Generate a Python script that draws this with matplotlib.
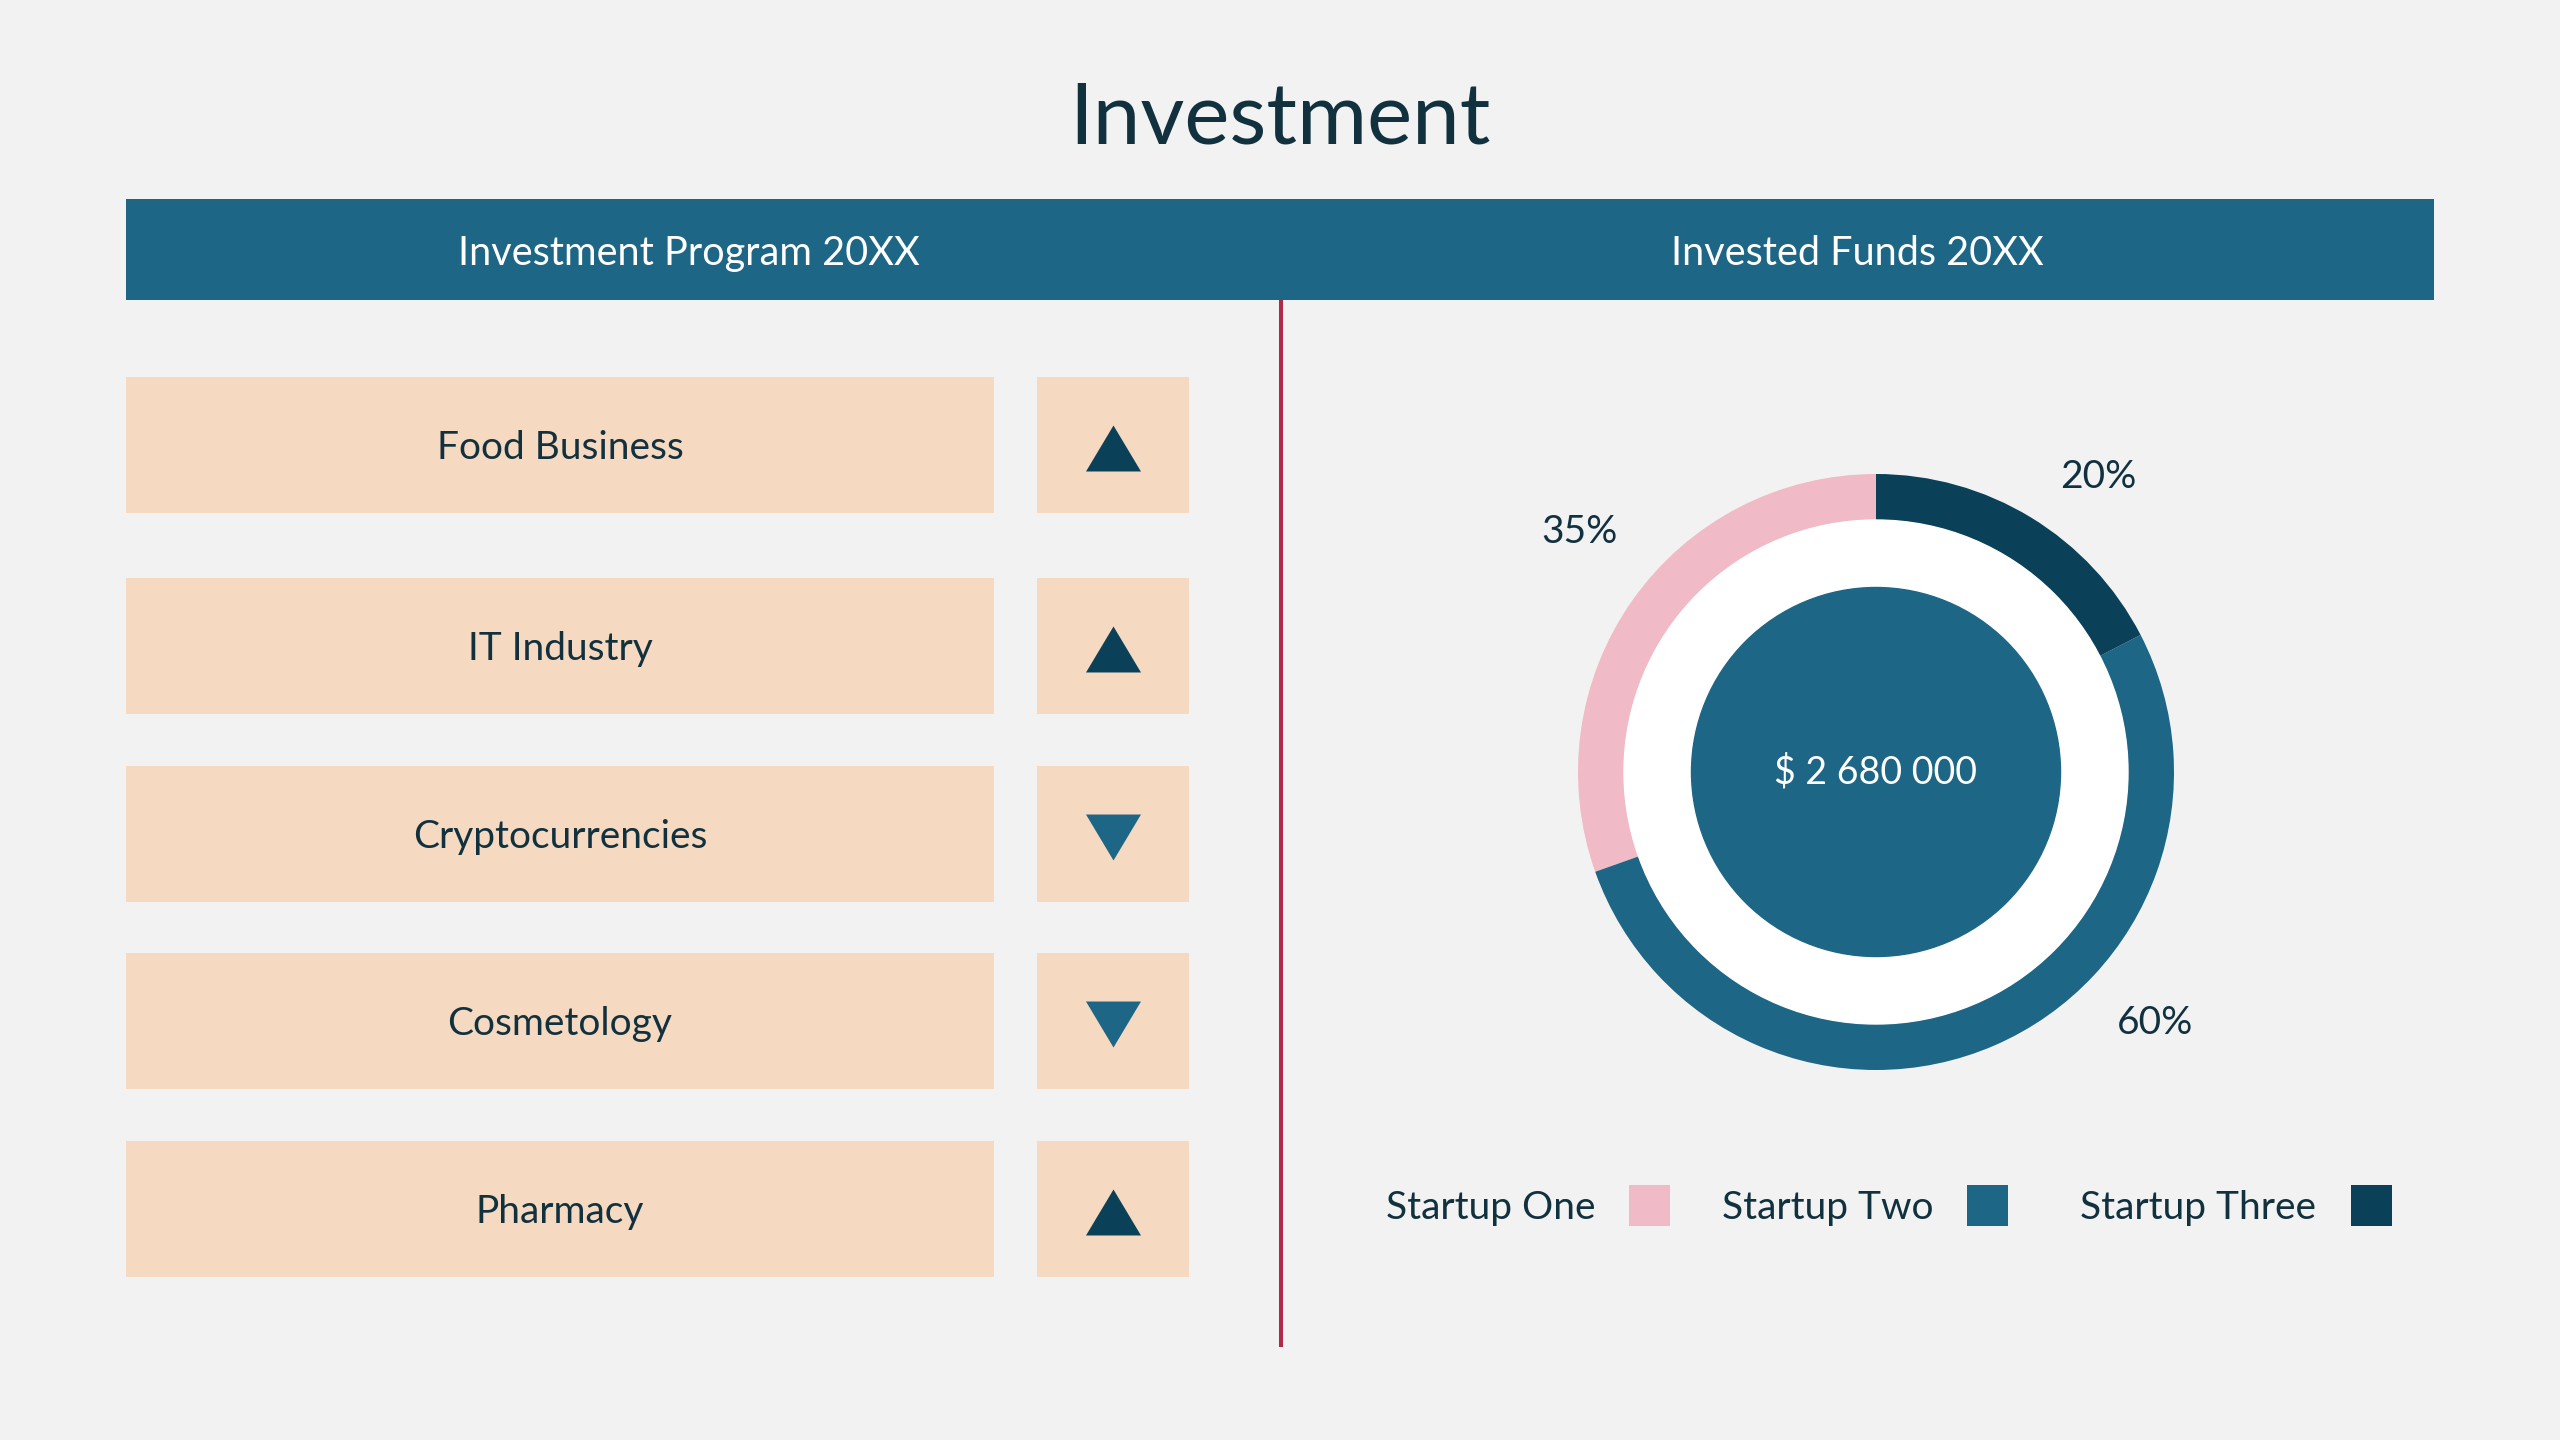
import numpy as np
import matplotlib
matplotlib.use('Agg')
import matplotlib.pyplot as plt
from matplotlib.patches import Rectangle, Circle

# chart content
title = 'Investment'
left_header = 'Investment Program 20XX'
right_header = 'Invested Funds 20XX'
categories = ['Food Business', 'IT Industry', 'Cryptocurrencies', 'Cosmetology', 'Pharmacy']
trends = ['up', 'up', 'down', 'down', 'up']
startups = ['Startup One', 'Startup Two', 'Startup Three']
shares = [35, 60, 20]
total_funds = '$ 2 680 000'

# colours
BG = '#F2F2F2'
TEXT = '#12313F'
TEAL = '#1D6685'
NAVY = '#0A4058'
PINK = '#F0BAC6'
PEACH = '#F5D9C1'
RED = '#B22A4B'
startup_colors = [PINK, TEAL, NAVY]
trend_colors = {'up': NAVY, 'down': TEAL}

W, H = 2560, 1440
plt.rcParams['font.family'] = ['Lato', 'DejaVu Sans']

fig = plt.figure(figsize=(W / 100, H / 100), dpi=100, facecolor=BG)
ax = fig.add_axes([0, 0, 1, 1])
ax.set_xlim(0, W)
ax.set_ylim(H, 0)
ax.axis('off')

# title and header band
ax.text(W / 2, 144, title, ha='center', va='baseline', fontsize=61.5, color=TEXT)
ax.add_patch(Rectangle((126, 199), 2308, 101, color=TEAL, lw=0))
ax.text(689, 265, left_header, ha='center', va='baseline', fontsize=28.5, color='white')
ax.text(1857, 265, right_header, ha='center', va='baseline', fontsize=28.5, color='white')

# divider
ax.plot([1281, 1281], [300, 1347], color=RED, lw=2.9, solid_capstyle='butt')

# left panel: rows with trend arrows
row_tops = [377, 578, 766, 953, 1141]
row_h = 136
up_marker = [(-1, -0.836), (1, -0.836), (0, 0.836)]
down_marker = [(-1, 0.836), (1, 0.836), (0, -0.836)]
for top, name, trend in zip(row_tops, categories, trends):
    ax.add_patch(Rectangle((126, top), 868, row_h, color=PEACH, lw=0))
    ax.add_patch(Rectangle((1037, top), 152, row_h, color=PEACH, lw=0))
    mid = top + row_h / 2
    ax.text(560, mid + 14, name, ha='center', va='baseline', fontsize=28, color=TEXT)
    ax.scatter([1113], [mid + 3], marker=up_marker if trend == 'up' else down_marker,
               s=39.6 ** 2, color=trend_colors[trend], linewidths=0, zorder=3)

# donut
cx, cy, r = 1876, 772, 298
span = 1.5
axd = fig.add_axes([(cx - span * r) / W, (H - cy - span * r) / H,
                    2 * span * r / W, 2 * span * r / H])
axd.pie(shares, colors=startup_colors, startangle=90, counterclock=True, radius=1,
        wedgeprops=dict(width=1 - 252 / 298, linewidth=0))
axd.add_patch(Circle((0, 0), 252 / 298, color='white', zorder=3))
axd.add_patch(Circle((0, 0), 184.5 / 298, color=TEAL, zorder=4))
axd.set_xlim(-span, span)
axd.set_ylim(-span, span)
axd.set_aspect('equal')
axd.axis('off')
axd.text(0, -0.04, total_funds, ha='center', va='baseline', fontsize=27, color='white', zorder=5)

label_angles = [141, -42, 53]
label_dist = [1.28, 1.26, 1.24]
for v, ang, d in zip(shares, label_angles, label_dist):
    a = np.deg2rad(ang)
    axd.text(d * np.cos(a), d * np.sin(a), f'{v}%', ha='center', va='center',
             fontsize=28, color=TEXT)

# legend
legend_text_x = [1386, 1722, 2080]
legend_box_x = [1629, 1967, 2351]
for name, col, tx, bx in zip(startups, startup_colors, legend_text_x, legend_box_x):
    ax.text(tx, 1219, name, ha='left', va='baseline', fontsize=28, color=TEXT)
    ax.add_patch(Rectangle((bx, 1185), 41, 41, color=col, lw=0))

fig.savefig('out.png', dpi=100, facecolor=BG)
